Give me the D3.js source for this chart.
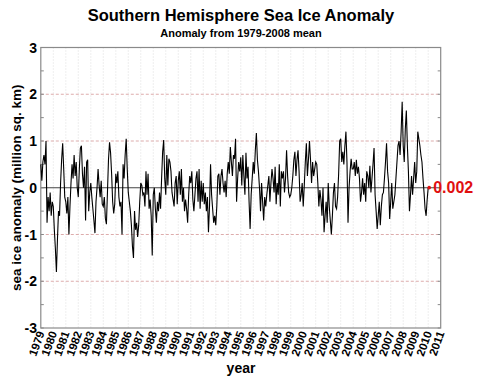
<!DOCTYPE html>
<html>
<head>
<meta charset="utf-8">
<script src="https://cdn.jsdelivr.net/npm/d3@7"></script>
<style>
  html, body { margin: 0; padding: 0; background: #fff; }
  svg { display: block; font-family: "Liberation Sans", Arial, Helvetica, sans-serif; }
</style>
</head>
<body>
<svg id="chart" width="480" height="383"></svg>
<script>
// Valori mensili dell'anomalia (milioni di km²)
const startYear = 1979;
const anomaly1979 = [0.5, 0.15, 0.55, 0.7, 0.5, 1.0, -0.75, -0.2, -0.5, -0.1, -0.6, -0.3];
const anomaly1980s = [
  -0.4, -0.9, -1.3, -1.8, -1.1, -0.5, -0.6, 0.1, 0.6, 0.95, 0.4, -0.2,
  -0.3, -0.55, -0.2, -1.0, -0.4, 0.1, 0.5, 0.2, 0.7, 0.25, 0.55, 0.0,
  -0.2, 0.4, 0.85, 0.9, 0.3, 0.0, 0.45, -0.7, 0.55, 0.6, -0.5, -0.1,
  0.1, -0.2, -0.45, -0.7, -0.97, -0.3, 0.0, 0.4, 0.05, -0.2, 0.15, -0.35,
  -0.4, -0.2, -0.65, -0.78, -0.1, 0.6, 0.97, 0.75, 0.3, -0.3, -0.55, -0.35,
  0.3, 0.1, 0.35, -0.2, -0.4, -0.3, -1.0, 0.5, 0.2, 0.7, 1.05, 0.4,
  -0.1, -0.3, -0.5, -0.8, -1.25, -1.5, -0.5, -0.9, -0.75, -1.05, -0.8, -0.3,
  0.1, 0.05, -0.15, -0.1, -0.4, 0.35, -0.15, 0.3, -0.45, -0.25, -0.6, -1.45,
  -0.15, 0.0, -0.45, -0.75, -0.3, -0.5, -0.1, -0.45, 0.2, 0.77, 1.02, 0.2,
  -0.15, 0.7, 0.05, 0.62, 0.55, 0.35, -0.1, -0.25, -0.4, 0.1, 0.25, -0.35
];
const anomaly1990s = [
  0.15, 0.35, -0.15, 0.4, -0.3, 0.0, -0.5, -0.25, -0.45, -0.75, -0.15, 0.25,
  0.1, 0.35, -0.25, -0.5, -0.15, 0.2, 0.35, -0.3, 0.4, -0.45, 0.15, -0.3,
  0.1, -0.35, -0.1, -0.5, -0.2, -0.95, -0.4, 0.5, -0.15, -0.45, -0.75, -0.6,
  -0.8, -0.4, 0.25, 0.3, -0.15, 0.25, 0.4, 0.1, -0.1, 0.15, -0.2, 0.3,
  0.55, 0.3, 0.87, 0.55, 0.25, 0.7, 0.62, 1.05, -0.3, 0.2, 0.55, 0.35,
  0.65, 0.05, 0.7, 0.25, -0.15, 0.75, 0.2, 0.45, -0.3, -0.88, -0.15, 0.2,
  0.55, 0.3, 0.8, 1.17, 0.6, 0.35, 0.0, -0.5, 0.1, -0.3, -0.7, -0.2,
  -0.4, -0.15, 0.05, 0.25, -0.3, 0.1, 0.4, 0.2, -0.1, 0.45, -0.35, 0.1,
  -0.15, 0.5, -0.4, 0.35, 0.2, 0.35, -0.1, 0.2, 0.8, 0.25, -0.1, -0.2,
  -0.15, 0.0, 0.25, 0.6, 0.77, 0.25, 0.6, 0.8, 0.35, -0.3, -0.15, 0.1
];
const anomaly2000s = [
  -0.4, 0.05, 0.55, 0.95, 0.25, 0.6, 1.0, 0.6, 0.1, 0.55, 0.25, 0.4,
  0.55, 0.5, 0.1, -0.4, -0.05, -0.25, -0.6, 0.0, -0.95, -0.6, -0.3, -0.75,
  0.1, -0.4, -0.7, -1.0, -0.6, -0.1, 0.1, -0.4, -0.45, -0.2, 0.3, 1.0,
  1.05, 0.55, 0.77, 0.5, 0.9, 1.2, 0.55, -0.75, 0.0, 0.35, 0.62, 0.4,
  0.4, 0.55, 0.25, 0.6, 0.3, 0.45, 0.2, -0.3, -0.1, 0.2, -0.15, 0.1,
  -0.3, 0.35, 0.25, 0.0, 0.47, -0.1, 0.2, 0.5, 0.85, -0.15, -0.5, -0.88,
  -0.6, -0.3, -0.8, -0.4, -0.15, -0.1, 0.2, 0.55, 0.95, 0.35, 0.1, -0.67,
  -0.3, 0.1, -0.45, -0.3, -0.15, 0.2, 0.55, 0.9, 1.0, 0.7, 1.2, 1.84,
  0.9, 0.55, 1.25, 1.65, 0.9, 0.35, -0.5, -0.15, 0.25, -0.15, 0.2, 0.55,
  0.1, 0.35, 1.2, 1.05, 0.9, 0.7, 0.55, 0.2, -0.1, -0.45, -0.6, -0.25
];
const lastYear = 2010.0;
const lastValue = 0.002;

const yearTicks = [1979, 1980, 1981, 1982, 1983, 1984, 1985, 1986, 1987, 1988, 1989,
  1990, 1991, 1992, 1993, 1994, 1995, 1996, 1997, 1998, 1999, 2000, 2001, 2002,
  2003, 2004, 2005, 2006, 2007, 2008, 2009, 2010, 2011];
const valueTicks = [-3, -2, -1, 0, 1, 2, 3];
const minorTicks = [-2.5, -1.5, -0.5, 0.5, 1.5, 2.5];
const dashedLevels = [-2, -1, 1, 2];

// Costruisci la serie temporale
const monthly = [].concat(anomaly1979, anomaly1980s, anomaly1990s, anomaly2000s);
const series = monthly.map((v, i) => ({ t: startYear + i / 12, v: v }));
series.push({ t: lastYear, v: lastValue });

const svg = d3.select("#chart");
const plotLeft = 40.8, plotRight = 440.7, plotTop = 47.5, plotBottom = 328;

const x = d3.scaleLinear().domain([1979, 2011]).range([plotLeft, plotRight]);
const y = d3.scaleLinear().domain([-3, 3]).range([plotBottom, plotTop]);

// Griglia verticale punteggiata
svg.append("g")
  .selectAll("line")
  .data(yearTicks.slice(1, -1))
  .enter()
  .append("line")
  .attr("x1", (d) => x(d)).attr("x2", (d) => x(d))
  .attr("y1", plotTop).attr("y2", plotBottom)
  .style("stroke", "#d6d6d6")
  .style("stroke-width", 0.8)
  .style("stroke-dasharray", "1,2");

// Linee tratteggiate rosa a ±1, ±2
svg.append("g")
  .selectAll("line")
  .data(dashedLevels)
  .enter()
  .append("line")
  .attr("x1", plotLeft).attr("x2", plotRight)
  .attr("y1", (d) => y(d)).attr("y2", (d) => y(d))
  .style("stroke", "#d9a3a3")
  .style("stroke-width", 0.9)
  .style("stroke-dasharray", "3,2");

// Linea dello zero
svg.append("line")
  .attr("x1", plotLeft).attr("x2", plotRight)
  .attr("y1", y(0)).attr("y2", y(0))
  .style("stroke", "#444")
  .style("stroke-width", 1);

// Tacche minori e maggiori su entrambi i lati
const tickG = svg.append("g").style("stroke", "#888").style("stroke-width", 1);
minorTicks.concat(valueTicks).forEach((d) => {
  tickG.append("line").attr("x1", plotLeft).attr("x2", plotLeft + 3).attr("y1", y(d)).attr("y2", y(d));
  tickG.append("line").attr("x1", plotRight - 3).attr("x2", plotRight).attr("y1", y(d)).attr("y2", y(d));
});

// Cornice del grafico
svg.append("rect")
  .attr("x", plotLeft).attr("y", plotTop)
  .attr("width", plotRight - plotLeft).attr("height", plotBottom - plotTop)
  .style("fill", "none")
  .style("stroke", "#8a8a8a")
  .style("stroke-width", 1.2);

// Serie dell'anomalia
const line = d3.line().x((d) => x(d.t)).y((d) => y(d.v));
svg.append("path")
  .datum(series)
  .attr("d", line)
  .style("fill", "none")
  .style("stroke", "#000")
  .style("stroke-width", 1.1)
  .style("stroke-linejoin", "miter");

// Ultimo valore in rosso
const last = series[series.length - 1];
svg.append("circle")
  .attr("cx", x(last.t) + 1).attr("cy", y(last.v))
  .attr("r", 1.8)
  .style("fill", "#e01010");
svg.append("text")
  .attr("x", x(last.t) + 5).attr("y", y(last.v) + 5.5)
  .style("font-size", "16px").style("font-weight", "bold")
  .style("fill", "#e01010")
  .text(d3.format(".3f")(last.v));

// Etichette asse y
svg.append("g")
  .selectAll("text")
  .data(valueTicks)
  .enter()
  .append("text")
  .attr("x", 37).attr("y", (d) => y(d))
  .attr("dy", "0.36em")
  .attr("text-anchor", "end")
  .style("font-size", "14px").style("font-weight", "bold")
  .text((d) => d);

// Etichette asse x ruotate
svg.append("g")
  .selectAll("text")
  .data(yearTicks)
  .enter()
  .append("text")
  .attr("transform", (d) => `translate(${x(d) + 4},${plotBottom + 5}) rotate(-70)`)
  .attr("text-anchor", "end")
  .style("font-size", "11.5px").style("font-weight", "bold")
  .text((d) => d);

// Titoli
svg.append("text")
  .attr("x", 241).attr("y", 20.5)
  .attr("text-anchor", "middle")
  .style("font-size", "16.5px").style("font-weight", "bold")
  .text("Southern Hemisphere Sea Ice Anomaly");

svg.append("text")
  .attr("x", 241).attr("y", 37)
  .attr("text-anchor", "middle")
  .style("font-size", "11px").style("font-weight", "bold")
  .text("Anomaly from 1979-2008 mean");

svg.append("text")
  .attr("x", 241).attr("y", 373)
  .attr("text-anchor", "middle")
  .style("font-size", "14px").style("font-weight", "bold")
  .text("year");

svg.append("text")
  .attr("transform", `translate(21,${(plotTop + plotBottom) / 2}) rotate(-90)`)
  .attr("text-anchor", "middle")
  .style("font-size", "13.5px").style("font-weight", "bold")
  .text("sea ice anomaly (million sq. km)");
</script>
</body>
</html>
